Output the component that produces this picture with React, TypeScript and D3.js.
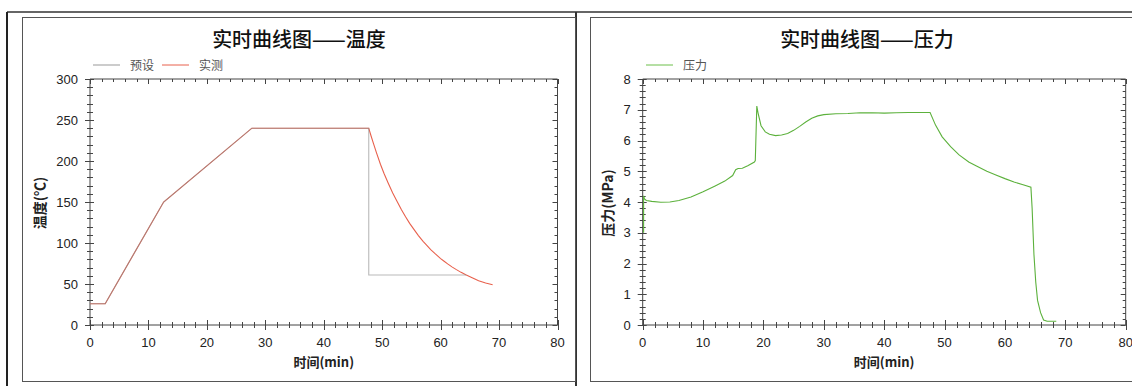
import React from "react";
import * as d3 from "d3";

// ---------- data ----------
const presetTime = [0, 2.6, 12.6, 27.7, 47.7, 47.7, 64.4];
const presetTemp = [26, 26, 150, 240, 240, 61, 61];

const actualTime = [0, 2.6, 12.6, 27.7, 47.7, 48.1, 48.5, 49.0, 49.7, 50.3, 51.0, 51.8, 52.6, 53.3, 54.0, 54.7, 55.4, 56.2, 57.0, 57.6, 58.3, 59.1, 60.0, 60.6, 61.2, 62.0, 62.7, 63.5, 64.3, 65.4, 66.5, 67.7, 68.9];
const actualTemp = [26, 26, 150, 240, 240, 230.5, 221.5, 210.5, 196, 185, 173.5, 161, 150, 140.5, 132, 124, 117, 109, 102, 97.3, 92, 86.7, 81, 77.7, 74.5, 70.6, 67.5, 64.2, 61.2, 57.5, 54, 51.3, 49];

const pressureTime = [0.15, 0.15, 0.3, 0.6, 1.5, 3.0, 4.5, 6.0, 8.0, 10.0, 12.0, 13.6, 14.9, 15.4, 15.8, 16.5, 17.4, 18.5, 18.65, 18.9, 19.1, 19.6, 20.3, 21.0, 22.0, 23.0, 24.0, 25.0, 26.0, 27.0, 28.0, 29.0, 30.0, 32.0, 34.0, 36.0, 38.0, 40.0, 42.0, 44.0, 46.0, 47.6, 48.5, 49.6, 51.0, 52.4, 54.0, 55.2, 57.0, 58.5, 60.0, 61.5, 63.0, 64.3, 64.5, 64.8, 65.1, 65.4, 65.9, 66.4, 67.0, 68.5];
const pressureValue = [3.0, 4.2, 4.1, 4.05, 4.02, 3.99, 4.0, 4.05, 4.16, 4.33, 4.52, 4.68, 4.86, 5.05, 5.09, 5.1, 5.18, 5.3, 5.35, 7.12, 6.9, 6.48, 6.28, 6.2, 6.16, 6.18, 6.23, 6.33, 6.46, 6.6, 6.72, 6.8, 6.84, 6.87, 6.88, 6.9, 6.9, 6.89, 6.9, 6.91, 6.91, 6.91, 6.5, 6.12, 5.8, 5.53, 5.3, 5.18, 5.0, 4.88, 4.76, 4.65, 4.56, 4.48, 3.8, 2.3, 1.4, 0.8, 0.4, 0.16, 0.12, 0.12];

const timeDomain = [0, 80];
const tempDomain = [0, 300];
const pressureDomain = [0, 8];

const tempTitle = "实时曲线图——温度";
const pressureTitle = "实时曲线图——压力";
const timeLabel = "时间(min)";
const tempLabel = "温度(℃)";
const pressureLabel = "压力(MPa)";
const presetName = "预设";
const actualName = "实测";
const pressureName = "压力";

type Series = { xs: number[]; ys: number[]; color: string; opacity?: number };
type LegendItem = { name: string; color: string };

const TICK_FONT = "'Liberation Sans', Arial, sans-serif";
const CJK_FONT = "'Noto Sans CJK SC', sans-serif";

function Panel(props: {
  x0: number; x1: number; y0: number; y1: number;
  yDomain: number[]; yMajor: number; yMinor: number;
  title: string; titleX: number; yLabel: string; yLabelX: number;
  series: Series[]; legend: LegendItem[]; legendX: number;
}) {
  const { x0, x1, y0, y1 } = props;
  const x = d3.scaleLinear().domain(timeDomain).range([x0, x1]);
  const y = d3.scaleLinear().domain(props.yDomain).range([y0, y1]);
  const xMajor = d3.range(timeDomain[0], timeDomain[1] + 0.001, 10);
  const xMinor = d3.range(timeDomain[0], timeDomain[1] + 0.001, 2);
  const yMaj = d3.range(props.yDomain[0], props.yDomain[1] + 1e-6, props.yMajor);
  const yMin = d3.range(props.yDomain[0], props.yDomain[1] + 1e-6, props.yMinor);
  const axisColor = "#444";
  const isMajorX = (v: number) => Math.abs(v / 10 - Math.round(v / 10)) < 1e-6;
  const isMajorY = (v: number) => Math.abs(v / props.yMajor - Math.round(v / props.yMajor)) < 1e-6;

  let lx = props.legendX;
  return (
    <g>
      <text x={props.titleX} y={47} textAnchor="middle" fontFamily={CJK_FONT} fontSize={20} fontWeight={500} fill="#111">
        {props.title}
      </text>
      {props.legend.map((l, i) => {
        const sx = lx;
        lx += 27 + 10 + l.name.length * 12 + 8;
        return (
          <g key={i}>
            <line x1={sx} x2={sx + 27} y1={65} y2={65} stroke={l.color} strokeWidth={1} />
            <text x={sx + 37} y={69.5} fontFamily={CJK_FONT} fontSize={12} fill="#555">{l.name}</text>
          </g>
        );
      })}
      {/* frame */}
      <line x1={x0} x2={x1} y1={y1} y2={y1} stroke={axisColor} />
      <line x1={x0} x2={x1} y1={y0} y2={y0} stroke={axisColor} />
      <line x1={x0} x2={x0} y1={y0} y2={y1} stroke={axisColor} />
      <line x1={x1} x2={x1} y1={y0} y2={y1} stroke={axisColor} />
      {/* x ticks */}
      {xMinor.map((v, i) => {
        const m = isMajorX(v);
        const px = Math.round(x(v)) + 0.5;
        return (
          <g key={"xt" + i}>
            <line x1={px} x2={px} y1={y0 - (m ? 5 : 3)} y2={y0 + (m ? 5 : 3)} stroke={axisColor} />
            <line x1={px} x2={px} y1={y1} y2={y1 + (m ? 5 : 3)} stroke={axisColor} />
          </g>
        );
      })}
      {xMajor.map((v, i) => (
        <text key={"xl" + i} x={x(v)} y={347} textAnchor="middle" fontFamily={TICK_FONT} fontSize={13} fill="#222">{v}</text>
      ))}
      {/* y ticks */}
      {yMin.map((v, i) => {
        const m = isMajorY(v);
        const py = Math.round(y(v)) + 0.5;
        return (
          <g key={"yt" + i}>
            <line x1={x0 - (m ? 5 : 3)} x2={x0 + (m ? 4 : 3)} y1={py} y2={py} stroke={axisColor} />
            <line x1={x1 - (m ? 5 : 3)} x2={x1} y1={py} y2={py} stroke={axisColor} />
          </g>
        );
      })}
      {yMaj.map((v, i) => (
        <text key={"yl" + i} x={x0 - 12} y={y(v) + 4.5} textAnchor="end" fontFamily={TICK_FONT} fontSize={13} fill="#222">{v}</text>
      ))}
      {/* axis labels */}
      <text x={(x0 + x1) / 2} y={367} textAnchor="middle" fontFamily={CJK_FONT} fontSize={13} fontWeight={700} fill="#222">{timeLabel}</text>
      <text transform={`translate(${props.yLabelX},${(y0 + y1) / 2 + 1}) rotate(-90)`} textAnchor="middle" fontFamily={CJK_FONT} fontSize={14} fontWeight={700} fill="#222">{props.yLabel}</text>
      {/* series */}
      {props.series.map((s, i) => {
        const pts = s.xs.map((t, k) => [t, s.ys[k]] as [number, number]);
        const gen = d3.line<[number, number]>().x((d) => x(d[0])).y((d) => y(d[1])).curve(d3.curveLinear);
        return <path key={"s" + i} d={gen(pts) || ""} fill="none" stroke={s.color} strokeWidth={1.1} strokeOpacity={s.opacity ?? 1} />;
      })}
    </g>
  );
}

export default function App() {
  return (
    <svg width={1132} height={386} style={{ position: "absolute", left: 0, top: 0, background: "#fff" }}>
      <rect x={0} y={0} width={1132} height={386} fill="#fff" />
      {/* outer frame */}
      <line x1={7} x2={1132} y1={12} y2={12} stroke="#333" strokeWidth={1.5} />
      <line x1={7} x2={7} y1={12} y2={386} stroke="#222" strokeWidth={2} />
      <line x1={576} x2={576} y1={12} y2={386} stroke="#333" strokeWidth={2} />
      <rect x={22.5} y={17.5} width={553} height={364} fill="none" stroke="#555" />
      <rect x={590.5} y={17.5} width={560} height={364} fill="none" stroke="#555" />
      <Panel
        x0={90} x1={557.5} y0={325} y1={79}
        yDomain={tempDomain} yMajor={50} yMinor={10}
        title={tempTitle} titleX={299} yLabel={tempLabel} yLabelX={45}
        legend={[{ name: presetName, color: "#999" }, { name: actualName, color: "#e8604c" }]}
        legendX={93}
        series={[
          { xs: actualTime, ys: actualTemp, color: "#e8604c" },
          { xs: presetTime, ys: presetTemp, color: "#8c8c8c", opacity: 0.6 },
        ]}
      />
      <Panel
        x0={642.7} x1={1125.7} y0={325} y1={79}
        yDomain={pressureDomain} yMajor={1} yMinor={0.2}
        title={pressureTitle} titleX={867} yLabel={pressureLabel} yLabelX={613}
        legend={[{ name: pressureName, color: "#6cbf4a" }]}
        legendX={646}
        series={[{ xs: pressureTime, ys: pressureValue, color: "#5cb13c" }]}
      />
    </svg>
  );
}
